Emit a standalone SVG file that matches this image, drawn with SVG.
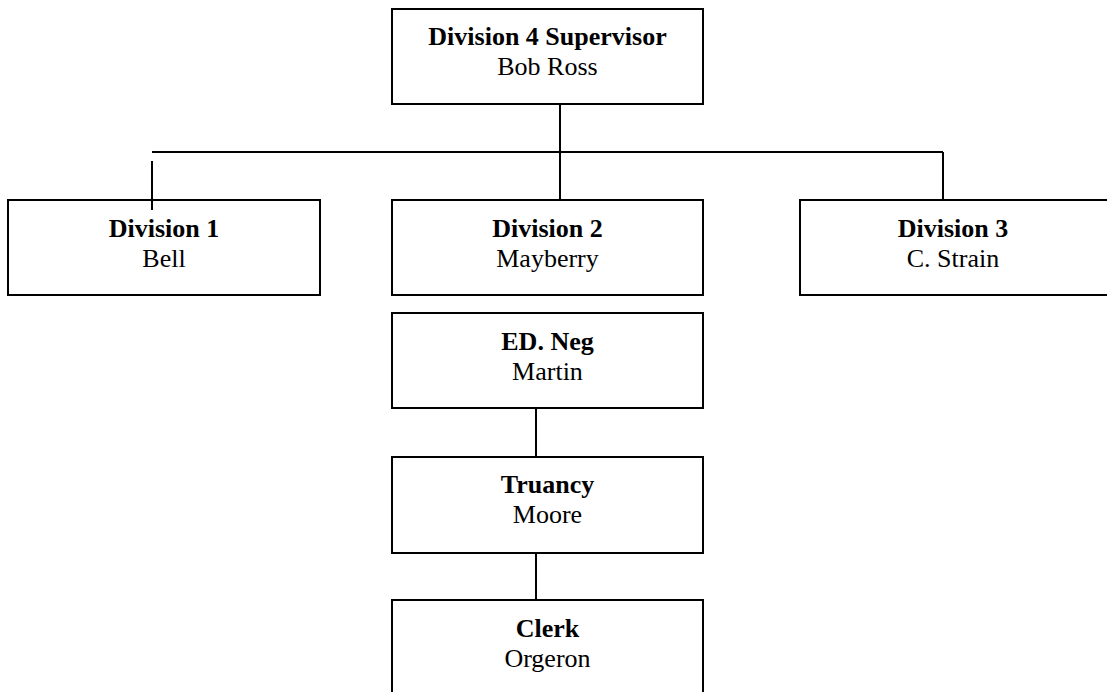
<svg xmlns="http://www.w3.org/2000/svg" width="1107" height="692" viewBox="0 0 1107 692">
  <style>
    .box { fill: #ffffff; stroke: #000000; stroke-width: 2; }
    .link { fill: none; stroke: #000000; stroke-width: 2; }
    .title { font-family: "Liberation Serif", "Times New Roman", serif; font-size: 26px; font-weight: bold; fill: #000000; text-anchor: middle; }
    .name { font-family: "Liberation Serif", "Times New Roman", serif; font-size: 26px; fill: #000000; text-anchor: middle; }
  </style>
  <rect width="1107" height="692" fill="#ffffff"/>

  <!-- connectors -->
  <g id="connectors">
    <line class="link" x1="560" y1="104" x2="560" y2="200"/>
    <line class="link" x1="152" y1="152" x2="943" y2="152"/>
    <line class="link" x1="943" y1="152" x2="943" y2="200"/>
    <line class="link" x1="152" y1="161" x2="152" y2="210"/>
    <line class="link" x1="536" y1="408" x2="536" y2="457"/>
    <line class="link" x1="536" y1="553" x2="536" y2="600"/>
  </g>

  <g id="supervisor">
    <rect class="box" x="392" y="9" width="311" height="95"/>
    <text class="title" x="547.5" y="45">Division 4 Supervisor</text>
    <text class="name" x="547.5" y="75">Bob Ross</text>
  </g>

  <g id="division1">
    <rect class="box" x="8" y="200" width="312" height="95" fill-opacity="0"/>
    <line class="link" x1="152" y1="200" x2="152" y2="210"/>
    <text class="title" x="164" y="237">Division 1</text>
    <text class="name" x="164" y="267">Bell</text>
  </g>

  <g id="division2">
    <rect class="box" x="392" y="200" width="311" height="95"/>
    <text class="title" x="547.5" y="237">Division 2</text>
    <text class="name" x="547.5" y="267">Mayberry</text>
  </g>

  <g id="division3">
    <rect class="box" x="800" y="200" width="312" height="95"/>
    <text class="title" x="953" y="237">Division 3</text>
    <text class="name" x="953" y="267">C. Strain</text>
  </g>

  <g id="edneg">
    <rect class="box" x="392" y="313" width="311" height="95"/>
    <text class="title" x="547.5" y="350">ED. Neg</text>
    <text class="name" x="547.5" y="380">Martin</text>
  </g>

  <g id="truancy">
    <rect class="box" x="392" y="457" width="311" height="96"/>
    <text class="title" x="547.5" y="493">Truancy</text>
    <text class="name" x="547.5" y="523">Moore</text>
  </g>

  <g id="clerk">
    <rect class="box" x="392" y="600" width="311" height="100"/>
    <text class="title" x="547.5" y="637">Clerk</text>
    <text class="name" x="547.5" y="667">Orgeron</text>
  </g>
</svg>
